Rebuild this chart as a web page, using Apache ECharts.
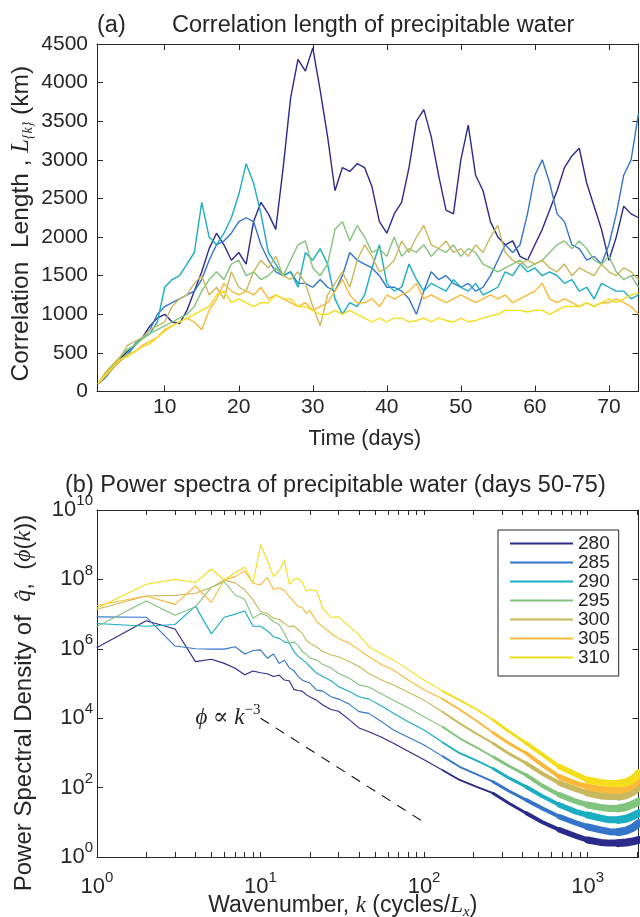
<!DOCTYPE html>
<html><head><meta charset="utf-8">
<script src="https://cdn.jsdelivr.net/npm/echarts@6/dist/echarts.min.js"></script>
<style>html,body{margin:0;padding:0;background:#fff}#c{width:640px;height:917px}</style>
</head><body><div id="c"></div>
<script>
// ---------- Panel (a): correlation length vs time ----------
const days = [1,2,3,4,5,6,7,8,9,10,11,12,13,14,15,16,17,18,19,20,21,22,23,24,25,26,27,28,29,30,31,32,33,34,35,36,37,38,39,40,41,42,43,44,45,46,47,48,49,50,51,52,53,54,55,56,57,58,59,60,61,62,63,64,65,66,67,68,69,70,71,72,73,74];
const len280 = [100,200,330,430,520,600,700,850,950,1000,900,880,1050,1300,1550,1850,2050,1900,1700,1800,1650,2200,2450,2300,2100,2900,3800,4300,4150,4450,3900,3300,2600,2900,2850,2950,2900,2650,2200,2050,2300,2450,2900,3500,3650,3300,2800,2350,2300,3000,3450,2800,2600,2200,2000,1900,1950,1750,1700,1900,2100,2350,2600,2900,3050,3150,2700,2400,2100,1700,2000,2400,2300,2250];
const len285 = [100,180,300,400,480,600,700,800,1000,1100,1150,1200,1250,1300,1450,1700,1900,1950,2050,2200,2250,2200,1900,1700,1550,1500,1550,1400,1400,1350,1450,1350,1300,1500,1800,1700,1650,1600,1500,1350,1350,1300,1200,1000,1300,1550,1450,1500,1400,1350,1400,1300,1350,1500,1700,1900,1800,1900,2300,2800,3000,2700,2300,2200,1900,1850,1700,1750,1650,1900,2300,2800,3000,3600];
const len290 = [100,200,300,400,500,620,700,750,900,1350,1450,1500,1650,1800,2450,2000,1900,2050,2250,2550,2950,2700,2300,1800,1650,1500,1550,1350,1800,1700,1850,1650,1200,1000,1150,1100,1250,1600,1900,1400,1300,1350,1650,1450,1300,1400,1350,1300,1450,1350,1300,1400,1250,1300,1350,1550,1500,1650,1550,1600,1500,1550,1500,1400,1450,1300,1350,1200,1400,1350,1300,1300,1200,1250];
const len295 = [100,230,350,450,550,600,680,750,800,850,900,950,1000,1100,1300,1450,1550,1450,1650,1700,1500,1550,1450,1500,1600,1500,1700,1900,1950,1600,1500,1650,2100,2200,1950,2150,2000,1800,1850,1750,2000,1750,1850,1800,1900,1750,1850,1800,1900,1750,1850,1800,1650,1600,1550,1600,1650,1700,1600,1650,1700,1800,1900,1950,1850,1950,1850,1700,1650,1750,1550,1450,1500,1350];
const len300 = [100,250,350,450,600,650,700,800,850,900,1100,1200,1250,1400,1500,1250,1350,1200,1550,1350,1300,1550,1700,1600,1750,1500,1450,1550,1400,1100,850,1250,1400,1550,1350,1700,1900,1750,1550,1600,1700,1950,1800,2000,2150,1900,1850,1950,1800,1850,1750,1900,1800,2000,2150,1800,1700,1650,1700,1650,1700,1600,1550,1650,1500,1600,1550,1500,1650,1550,1500,1600,1550,1450];
const len305 = [100,200,300,400,480,520,600,650,700,800,850,900,950,900,800,1050,1200,1400,1300,1250,1300,1250,1350,1200,1250,1200,1150,1100,1150,1050,1100,1150,1300,1450,1250,1150,1150,1200,1100,1250,1200,1250,1300,1400,1200,1250,1200,1150,1200,1250,1200,1150,1200,1250,1200,1250,1150,1200,1250,1300,1400,1200,1150,1200,1150,1100,1150,1100,1150,1150,1200,1150,1100,1000];
const len310 = [100,220,320,420,450,520,580,620,700,780,850,900,950,1000,1050,1100,1250,1300,1150,1200,1150,1100,1150,1150,1250,1200,1200,1100,1100,1050,1000,1000,1050,1000,1050,1000,950,900,950,900,950,950,900,920,950,900,950,920,900,950,900,920,950,980,1000,1050,1050,1050,1030,1050,1050,1000,1050,1100,1100,1100,1150,1100,1150,1200,1150,1200,1250,1280];
const timeTicks = [10,20,30,40,50,60,70];

// ---------- Panel (b): power spectra (log10 of PSD) ----------
const kGrid = [1,2,3,4,5,6,7,8,9,10,11,12,13,14,15,16,17,18,19,20,22,24,27,30,35,40,46,55,65,80,100,130,165,210,264,330,422,530,673,850,1000,1200,1361,1550,1722,1900,2048];
const psd280Log = [6.04,6.81,6.57,5.63,5.70,5.58,5.44,5.25,5.36,5.31,5.28,5.20,5.24,5.10,5.08,4.83,4.80,4.78,4.68,4.62,4.52,4.38,4.25,4.20,3.95,3.72,3.61,3.45,3.28,3.05,2.80,2.50,2.22,2.02,1.84,1.55,1.26,1.00,0.78,0.60,0.49,0.42,0.40,0.40,0.42,0.45,0.49];
const psd285Log = [6.92,6.91,6.08,6.00,5.99,5.99,6.06,5.85,5.95,5.97,5.73,5.85,5.58,5.67,5.45,5.37,5.20,5.10,5.05,5.02,4.81,4.78,4.62,4.55,4.40,4.19,4.14,3.90,3.66,3.45,3.23,2.90,2.60,2.38,2.17,1.90,1.64,1.40,1.16,0.98,0.87,0.78,0.73,0.72,0.76,0.85,0.97];
const psd290Log = [6.73,6.65,6.70,7.23,6.43,6.91,7.00,7.09,6.65,6.65,6.52,6.35,6.30,6.20,6.16,5.92,5.78,5.69,5.60,5.49,5.30,5.20,5.08,4.91,4.77,4.62,4.55,4.35,4.14,3.90,3.66,3.30,2.99,2.78,2.55,2.28,2.02,1.75,1.50,1.30,1.21,1.12,1.07,1.07,1.10,1.18,1.26];
const psd295Log = [6.64,7.38,6.97,7.21,7.77,7.93,7.55,7.43,6.88,7.02,6.95,6.78,6.70,6.44,6.16,6.20,6.10,5.92,5.85,5.73,5.68,5.55,5.45,5.29,5.15,4.96,4.90,4.70,4.52,4.30,4.04,3.75,3.42,3.15,2.89,2.62,2.36,2.05,1.79,1.60,1.50,1.43,1.40,1.40,1.44,1.52,1.60];
const psd300Log = [7.14,7.52,7.54,7.60,7.77,7.98,7.90,7.70,7.41,7.07,7.02,6.88,6.85,6.73,6.64,6.66,6.55,6.45,6.25,6.16,6.06,5.92,5.82,5.77,5.63,5.49,5.29,5.10,4.96,4.75,4.52,4.18,3.85,3.55,3.28,2.98,2.70,2.40,2.13,1.95,1.84,1.76,1.74,1.74,1.78,1.88,2.02];
const psd305Log = [7.25,7.52,7.28,7.81,7.34,7.98,8.08,8.24,7.89,7.84,8.05,7.71,7.76,7.69,7.50,7.36,7.21,7.19,7.02,7.10,6.78,6.64,6.44,6.30,6.16,5.97,5.77,5.55,5.39,5.10,4.82,4.55,4.25,3.92,3.58,3.28,2.99,2.65,2.31,2.12,2.02,1.95,1.93,1.93,1.98,2.08,2.22];
const psd310Log = [7.17,7.86,8.00,7.91,8.30,7.99,8.19,8.35,7.90,8.99,8.56,8.08,8.25,8.56,7.86,8.00,8.03,7.92,7.67,7.70,7.68,7.17,6.90,6.92,6.64,6.40,6.06,5.85,5.68,5.40,5.10,4.78,4.52,4.25,3.95,3.62,3.28,2.95,2.60,2.38,2.22,2.15,2.12,2.12,2.15,2.25,2.41];
const slopeRef = [[10, 1e4], [100, 1e1]];
const kMajor = [1,10,100,1000];
const kTicks = [1,2,3,4,5,6,7,8,9,10,20,30,40,50,60,70,80,90,100,200,300,400,500,600,700,800,900,1000,2000];
const psdMajor = [1,1e2,1e4,1e6,1e8,1e10];

const names = ['280','285','290','295','300','305','310'];
const colors = ['#2c2a8a','#3475c9','#1badc2','#82c47d','#c9b95e','#fbb93b','#f4de1b'];
const lenSets = [len280,len285,len290,len295,len300,len305,len310];
const psdSets = [psd280Log,psd285Log,psd290Log,psd295Log,psd300Log,psd305Log,psd310Log];
// spectral pieces: [kFrom, kTo, line width] - the noise band widens at high k
const psdPieces = [[1, 130, 1.1], [130, 264, 1.9], [264, 422, 2.9], [422, 673, 4], [673, 1000, 5.5], [1000, 1550, 7], [1550, 2048, 8]];

const FONT = "'Liberation Sans', Arial, Helvetica, sans-serif";
const SERIF = "'Liberation Serif', 'DejaVu Serif', serif";
const INK = '#262626';

const supFmt = v => '{b|10}{s|' + Math.round(Math.log10(v)) + '}';
const supRich = {
  b: {fontFamily: FONT, fontSize: 22, color: INK, lineHeight: 22},
  s: {fontFamily: FONT, fontSize: 15, color: INK, padding: [0,0,18,0], lineHeight: 22}
};

function frameAxis(o) {
  return Object.assign({
    axisLine: {show: true, onZero: false, lineStyle: {color: INK, width: 1}},
    splitLine: {show: false},
    axisLabel: {show: false},
    axisTick: {show: true, inside: true, length: 6, lineStyle: {color: INK, width: 1}},
    nameMoveOverlap: false
  }, o);
}

const series = [];
names.forEach((n, i) => {
  series.push({
    name: n, type: 'line', xAxisIndex: 0, yAxisIndex: 0, symbol: 'none',
    data: days.map((d, j) => [d, lenSets[i][j]]),
    lineStyle: {color: colors[i], width: 1.4}, itemStyle: {color: colors[i]}, z: 2 + i
  });
});
names.forEach((n, i) => {
  psdPieces.forEach(([k0, k1, w]) => {
    const pts = [];
    kGrid.forEach((k, j) => { if (k >= k0 && k <= k1) pts.push([k, Math.pow(10, psdSets[i][j])]); });
    series.push({
      name: n, type: 'line', xAxisIndex: 2, yAxisIndex: 2, symbol: 'none',
      data: pts, lineStyle: {color: colors[i], width: w, join: 'round', cap: 'round'},
      itemStyle: {color: colors[i]}, z: 2 + i
    });
  });
});
series.push({
  name: 'slope', type: 'line', xAxisIndex: 2, yAxisIndex: 2, symbol: 'none',
  data: slopeRef, lineStyle: {color: '#111', width: 1.1, type: [10, 8]}, z: 10,
  markPoint: {
    symbol: 'circle', symbolSize: 0,
    data: [{coord: slopeRef[0]}],
    label: {
      show: true, position: 'left', distance: 0,
      formatter: '{i|ϕ ∝ k}{s|−3}',
      rich: {
        i: {fontFamily: SERIF, fontStyle: 'italic', fontSize: 23, color: INK, lineHeight: 24},
        s: {fontFamily: SERIF, fontStyle: 'normal', fontSize: 15, color: INK, padding: [0,0,16,0], lineHeight: 24}
      }
    }
  }
});

const mRich = (pad, fs) => ({fontFamily: FONT, fontStyle: 'normal', fontSize: fs, color: INK, padding: pad});
const iRich = (pad, fs) => ({fontFamily: SERIF, fontStyle: 'italic', fontSize: fs, color: INK, padding: pad});

const option = {
  animation: false,
  backgroundColor: '#fff',
  title: [
    {text: '(a)', left: 97, top: 14, padding: 0, textStyle: {fontSize: 23.5, fontWeight: 'normal', color: INK, fontFamily: FONT}},
    {text: 'Correlation length of precipitable water', left: 172, top: 14, padding: 0, textStyle: {fontSize: 23.5, fontWeight: 'normal', color: INK, fontFamily: FONT}},
    {text: '(b) Power spectra of precipitable water (days 50-75)', left: 65, top: 474, padding: 0, textStyle: {fontSize: 23.5, fontWeight: 'normal', color: INK, fontFamily: FONT}}
  ],
  legend: {
    data: names, orient: 'vertical', left: 498, top: 530,
    padding: [4, 9, 9, 12], itemGap: 0, itemWidth: 63, itemHeight: 12,
    icon: 'path://M0,0H63V2H0Z',
    borderColor: INK, borderWidth: 1, backgroundColor: '#fff',
    textStyle: {fontSize: 19, color: INK, fontFamily: FONT},
    selectedMode: false
  },
  grid: [
    {left: 97, top: 44, width: 541.5, height: 347.5, outerBoundsMode: 'none', containLabel: false},
    {left: 97, top: 510, width: 541.5, height: 347, outerBoundsMode: 'none', containLabel: false}
  ],
  xAxis: [
    frameAxis({type: 'value', gridIndex: 0, min: 0.85, max: 74, position: 'bottom',
      axisTick: {show: true, inside: true, length: 6, customValues: timeTicks, lineStyle: {color: INK}},
      axisLabel: {show: true, customValues: timeTicks, margin: 5, fontSize: 21, color: INK, fontFamily: FONT},
      name: 'Time (days)', nameLocation: 'middle', nameGap: 37,
      nameTextStyle: {fontSize: 21.5, color: INK, fontFamily: FONT, padding: [0, 6, 0, 0]}}),
    frameAxis({type: 'value', gridIndex: 0, min: 0.85, max: 74, position: 'top',
      axisTick: {show: true, inside: true, length: 6, customValues: timeTicks, lineStyle: {color: INK}}}),
    frameAxis({type: 'log', logBase: 10, gridIndex: 1, min: 1, max: 2048, position: 'bottom',
      axisTick: {show: true, inside: true, length: 5, customValues: kTicks, lineStyle: {color: INK}},
      axisLabel: {show: true, customValues: kMajor, margin: 19, formatter: supFmt, rich: supRich},
      name: '{m|Wavenumber, }{i|k}{m| (cycles/}{i|L}x{m|)}', nameLocation: 'middle', nameGap: 37,
      nameTextStyle: {fontFamily: SERIF, fontStyle: 'italic', fontSize: 15, color: INK, padding: [0, 50, 0, 0],
        rich: {m: mRich([0,0,14,0], 23), i: iRich([0,0,14,0], 23)}}}),
    frameAxis({type: 'log', logBase: 10, gridIndex: 1, min: 1, max: 2048, position: 'top',
      axisTick: {show: true, inside: true, length: 5, customValues: kTicks, lineStyle: {color: INK}}})
  ],
  yAxis: [
    frameAxis({type: 'value', gridIndex: 0, min: 0, max: 4500, interval: 500, position: 'left',
      axisLabel: {show: true, margin: 9, fontSize: 21, color: INK, fontFamily: FONT, formatter: v => String(v)},
      name: '{m|Correlation  Length , }{i|L}{k}{m| (km)}', nameLocation: 'middle', nameRotate: 90, nameGap: 49,
      nameTextStyle: {fontFamily: SERIF, fontStyle: 'italic', fontSize: 14, color: INK, padding: [0, 12, 0, 0],
        rich: {m: mRich([0,0,14,0], 24.5), i: iRich([0,0,14,0], 24.5)}}}),
    frameAxis({type: 'value', gridIndex: 0, min: 0, max: 4500, interval: 500, position: 'right'}),
    frameAxis({type: 'log', logBase: 10, gridIndex: 1, min: 1, max: 1e10, position: 'left',
      axisTick: {show: true, inside: true, length: 6, customValues: psdMajor, lineStyle: {color: INK}},
      axisLabel: {show: true, customValues: psdMajor, margin: 4, formatter: supFmt, rich: supRich},
      name: '{m|Power Spectral Density of  }{i|q̂}{m|,  (}{i|ϕ}{m|(}{i|k}{m|))}', nameLocation: 'middle', nameRotate: 90, nameGap: 61,
      nameTextStyle: {fontFamily: FONT, fontSize: 24, color: INK, padding: [0, 39, 0, 0],
        rich: {m: mRich(0, 24), i: iRich(0, 24)}}}),
    frameAxis({type: 'log', logBase: 10, gridIndex: 1, min: 1, max: 1e10, position: 'right',
      axisTick: {show: true, inside: true, length: 6, customValues: psdMajor, lineStyle: {color: INK}}})
  ],
  series: series
};
const chart = echarts.init(document.getElementById('c'), null, {renderer: 'canvas'});
chart.setOption(option);
</script></body></html>
